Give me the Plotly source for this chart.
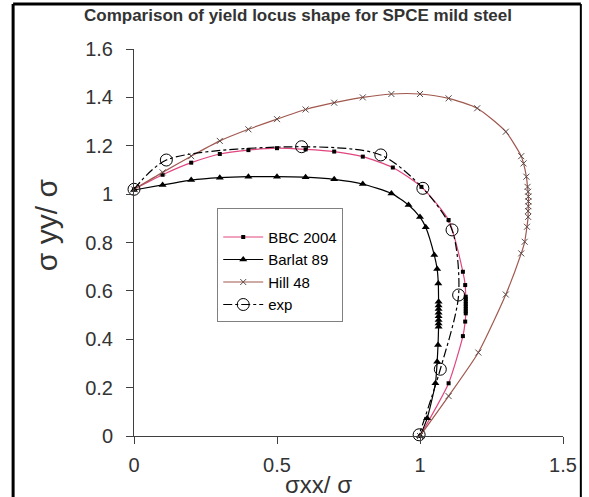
import plotly.graph_objects as go

# ---- data ----
bbc_x = [0.0, 0.10, 0.20, 0.30, 0.40, 0.50, 0.60, 0.70, 0.80, 0.905, 1.005, 1.10, 1.15, 1.158,
         1.16, 1.16, 1.16, 1.16, 1.16, 1.16, 1.16, 1.16, 1.158, 1.15, 1.10, 1.0]
bbc_y = [1.02, 1.08, 1.13, 1.166, 1.182, 1.19, 1.185, 1.176, 1.155, 1.11, 1.03, 0.893, 0.679, 0.624,
         0.576, 0.566, 0.556, 0.546, 0.536, 0.526, 0.516, 0.507, 0.473, 0.413, 0.218, 0.0]

barlat_x = [0.0, 0.10, 0.20, 0.30, 0.40, 0.50, 0.60, 0.70, 0.80, 0.90, 0.96, 1.0, 1.02, 1.05, 1.06, 1.064,
            1.065, 1.065, 1.065, 1.065, 1.065, 1.065, 1.065, 1.065, 1.063, 1.06, 1.054, 1.025, 1.0]
barlat_y = [1.017, 1.038, 1.058, 1.068, 1.072, 1.072, 1.07, 1.061, 1.042, 1.003, 0.955, 0.905, 0.863, 0.748, 0.69, 0.631,
            0.555, 0.54, 0.525, 0.51, 0.495, 0.48, 0.465, 0.452, 0.376, 0.307, 0.218, 0.073, 0.0]

hill_x = [0.0, 0.10, 0.20, 0.30, 0.40, 0.50, 0.60, 0.70, 0.80, 0.90, 1.0, 1.10, 1.20, 1.30, 1.354, 1.362, 1.372,
          1.376, 1.378, 1.379, 1.379, 1.379, 1.378, 1.378, 1.374, 1.366, 1.354, 1.30, 1.204, 1.10, 1.0]
hill_y = [1.02, 1.09, 1.157, 1.22, 1.268, 1.31, 1.35, 1.378, 1.40, 1.414, 1.414, 1.396, 1.355, 1.258, 1.157, 1.127, 1.072,
          1.03, 1.01, 0.99, 0.97, 0.95, 0.93, 0.906, 0.865, 0.803, 0.755, 0.585, 0.345, 0.165, 0.0]

exp_x = [0.0, 0.113, 0.586, 0.863, 1.01, 1.112, 1.135, 1.071, 0.997]
exp_y = [1.02, 1.141, 1.196, 1.162, 1.024, 0.852, 0.583, 0.276, 0.005]

names = ["BBC 2004", "Barlat 89", "Hill 48", "exp"]
title_text = "Comparison of yield locus shape for SPCE mild steel"
x_title = "σxx/ σ"
y_title = "σ yy/ σ"
x_ticks = [0, 0.5, 1, 1.5]
y_ticks = [0, 0.2, 0.4, 0.6, 0.8, 1, 1.2, 1.4, 1.6]

FONT = "Liberation Sans, Arial, sans-serif"

fig = go.Figure()
fig.add_trace(go.Scatter(
    x=bbc_x, y=bbc_y, name=names[0], mode="lines+markers",
    line=dict(color="#e0457f", width=1.2, shape="spline", smoothing=0.6),
    marker=dict(symbol="square", size=4, color="black"), cliponaxis=False))
fig.add_trace(go.Scatter(
    x=barlat_x, y=barlat_y, name=names[1], mode="lines+markers",
    line=dict(color="black", width=1.2, shape="spline", smoothing=0.6),
    marker=dict(symbol="triangle-up", size=7, color="black"), cliponaxis=False))
fig.add_trace(go.Scatter(
    x=hill_x, y=hill_y, name=names[2], mode="lines+markers",
    line=dict(color="#a0584f", width=1.2, shape="spline", smoothing=0.6),
    marker=dict(symbol="x-thin", size=6, line=dict(color="#5a4a48", width=1)), cliponaxis=False))
fig.add_trace(go.Scatter(
    x=exp_x, y=exp_y, name=names[3], mode="lines+markers",
    line=dict(color="black", width=1.2, dash="dashdot", shape="spline", smoothing=0.8),
    marker=dict(symbol="circle-open", size=12, color="black", line=dict(width=1)), cliponaxis=False))

axis_common = dict(
    showgrid=False, zeroline=False, showline=True, linecolor="#404040", linewidth=1,
    ticks="outside", ticklen=7, tickcolor="#404040",
    tickfont=dict(family=FONT, size=20, color="#333333"),
)
fig.update_xaxes(range=[0, 1.5], tickvals=x_ticks, ticktext=[str(v) for v in x_ticks], ticklabelstandoff=4,
                 **axis_common)
fig.update_yaxes(range=[0, 1.6], tickvals=y_ticks, ticktext=[str(v) for v in y_ticks], ticklabelstandoff=9,
                 **axis_common)

fig.update_layout(
    width=589, height=497,
    margin=dict(l=134, r=22, t=49, b=61),
    plot_bgcolor="white", paper_bgcolor="white",
    showlegend=True,
    legend=dict(x=0.194, y=0.589, xanchor="left", yanchor="top",
                bgcolor="white", bordercolor="#808080", borderwidth=1,
                itemwidth=40,
                title=dict(text=" ", font=dict(family=FONT, size=9)),
                font=dict(family=FONT, size=15, color="black"), tracegroupgap=0),
    annotations=[
        dict(text="<b>" + title_text + "</b>", xref="paper", yref="paper", x=0.383, y=1.0853,
             xanchor="center", yanchor="middle", showarrow=False,
             font=dict(family=FONT, size=17, color="#333333")),
        dict(text=y_title, xref="paper", yref="paper", x=-0.205, y=0.545, textangle=-90,
             xanchor="center", yanchor="middle", showarrow=False,
             font=dict(family=FONT, size=30, color="#333333")),
        dict(text=x_title, xref="paper", yref="paper", x=0.4296, y=-0.125,
             xanchor="center", yanchor="middle", showarrow=False,
             font=dict(family=FONT, size=24, color="#333333")),
    ],
    shapes=[
        dict(type="line", xref="paper", yref="paper", x0=-0.2818, x1=-0.2818, y0=1.1163, y1=-0.3,
             line=dict(color="black", width=3)),
        dict(type="line", xref="paper", yref="paper", x0=-0.2818, x1=1.0416, y0=1.1163, y1=1.1163,
             line=dict(color="black", width=3)),
        dict(type="line", xref="paper", yref="paper", x0=1.0416, x1=1.0416, y0=1.1163, y1=-0.3,
             line=dict(color="black", width=2)),
    ],
)

fig.write_html("out.html")
